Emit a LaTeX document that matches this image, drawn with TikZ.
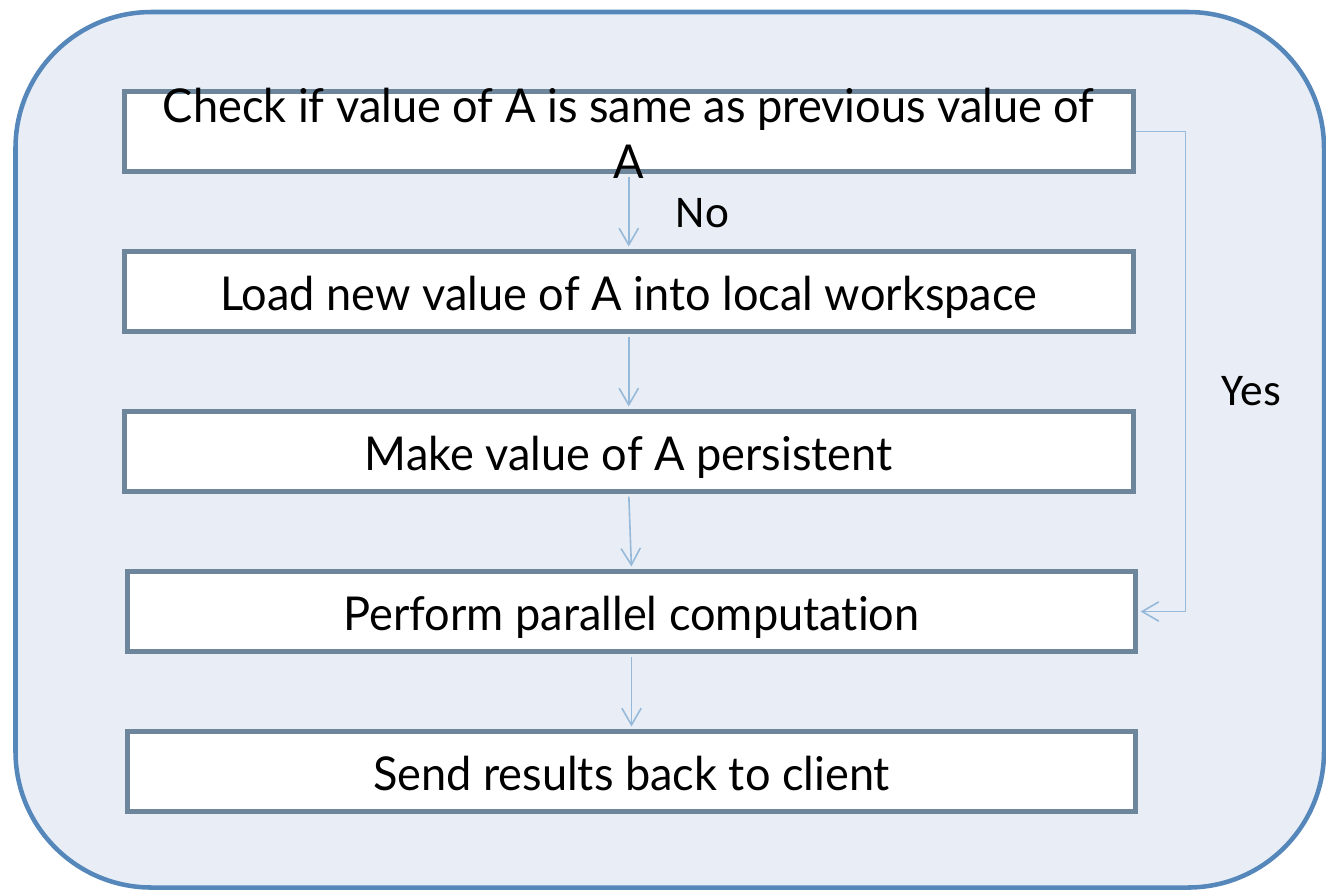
\documentclass[tikz,border=0pt]{standalone}
\usepackage{fontspec}
\setmainfont{Lato}[Ligatures=NoCommon, FakeStretch=0.967]
\newfontfamily\labelfont{Carlito}
\usetikzlibrary{arrows.meta}

\definecolor{panelfill}{HTML}{E9EEF6}
\definecolor{panelline}{HTML}{5587BB}
\definecolor{boxline}{HTML}{6D869B}
\definecolor{flowline}{HTML}{97B9D9}

\begin{document}
\begin{tikzpicture}[x=0.75pt, y=-0.75pt,
  stepbox/.style={draw=boxline, line width=3.75pt, fill=white, rectangle,
    inner sep=0pt, minimum height=60pt},
  widebox/.style={stepbox, minimum width=757pt},
  lowbox/.style={stepbox, minimum width=756pt},
  boxtext/.style={font=\fontsize{35}{42}\selectfont, inner sep=0pt, anchor=base, align=center},
  flow/.style={draw=flowline, line width=1.2pt, shorten <=1.9pt, shorten >=1.9pt,
    -{Straight Barb[length=12.5pt, width=14.5pt, line width=1.2pt]}},
  decision/.style={font=\labelfont\fontsize{34}{40}\selectfont, inner sep=0pt, anchor=base}]

\useasboundingbox (0,0) rectangle (1326,890);

% background panel
\draw[fill=panelfill, draw=panelline, line width=3.4pt, rounded corners=102pt]
  (15.5,12) rectangle (1324,887.5);

% process steps
\node[widebox] (b1) at (628.75,131.5) {};
\node[widebox] (b2) at (628.75,291.5) {};
\node[widebox] (b3) at (628.75,451.5) {};
\node[lowbox]  (b4) at (631.5,611.5) {};
\node[lowbox]  (b5) at (631.5,771.5) {};

% flow between the steps
\draw[flow] (b1.south) -- (b2.north);
\draw[flow] (b2.south) -- (b3.north);
\draw[flow] (b3.south) -- (b4.north);
\draw[flow] (b4.south) -- (b5.north);
\draw[flow, shorten <=0pt] (b1.east) -- ++(49.5,0) |- (b4.east);

% step texts (drawn after the connectors so the overflowing "A" sits on top);
% a multi-line node's base is the baseline of its last line
\node[boxtext] (t1) at (628.75,178) {Check if value of A is same as previous value of\\A};
\node[boxtext] (t2) at (628.75,310) {Load new value of A into local workspace};
\node[boxtext] (t3) at (628.75,470) {Make value of A persistent};
\node[boxtext] (t4) at (631.5,630) {Perform parallel computation};
\node[boxtext] (t5) at (631.5,790) {Send results back to client};

% branch labels
\node[decision] (no)  at (702.5,227) {No};
\node[decision] (yes) at (1251.5,405) {Yes};
\end{tikzpicture}
\end{document}
